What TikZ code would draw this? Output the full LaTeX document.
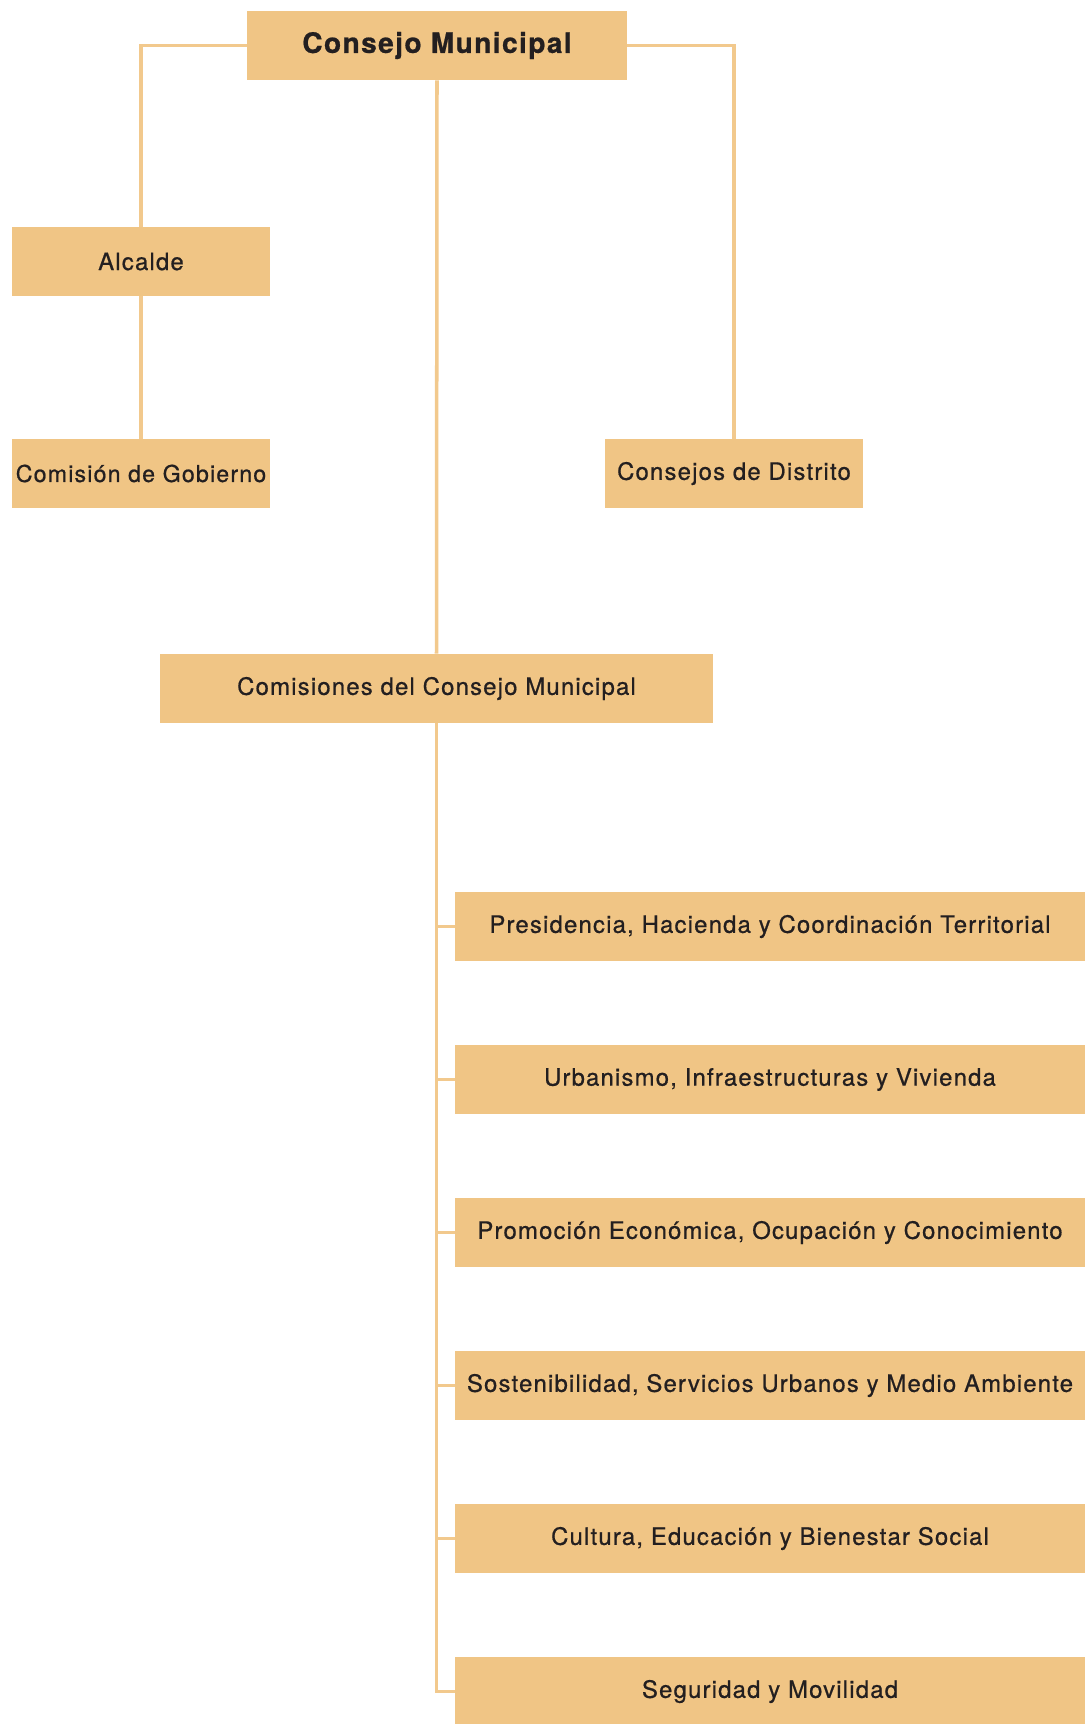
\documentclass[tikz,border=0pt]{standalone}
\usepackage{fontspec}
\setmainfont{TeX Gyre Heros}[LetterSpace=5,FakeBold=0.7]
\usepackage{tikz}
\usetikzlibrary{positioning}
\usetikzlibrary{calc}
\definecolor{boxfill}{HTML}{F0C585}
\definecolor{boxline}{HTML}{F2C98D}
\definecolor{boxtext}{HTML}{231F20}

\begin{document}
\begin{tikzpicture}[x=0.02cm,y=-0.02cm]

\tikzset{box/.style = {fill=boxfill, draw=none, text=boxtext, minimum height=1.38cm, inner sep=0pt, font=\fontsize{13.6}{16}\selectfont}}
\tikzset{link/.style = {draw=boxline, line width=2pt}}

\useasboundingbox (0,0) rectangle (1085,1724);

%boxes

\node[box, minimum width=7.6cm, font=\fontsize{16}{19}\selectfont\bfseries] (cm) at (437,45.5) {Consejo Municipal};

\node[box, minimum width=5.16cm] (alc) at (141,261.5) {Alcalde};
\node[box, minimum width=5.16cm, font=\fontsize{13.2}{16}\selectfont] (cg) at (141,473.5) {Comisión de Gobierno};
\node[box, minimum width=5.16cm] (cd) at (734,473.5) {Consejos de Distrito};

\node[box, minimum width=11.06cm] (ccm) at (436.5,688.5) {Comisiones del Consejo Municipal};

\node[box, minimum width=12.6cm] (c1) at (770,926.5) {Presidencia, Hacienda y Coordinación Territorial};
\node[box, minimum width=12.6cm] (c2) at (770,1079.5) {Urbanismo, Infraestructuras y Vivienda};
\node[box, minimum width=12.6cm] (c3) at (770,1232.5) {Promoción Económica, Ocupación y Conocimiento};
\node[box, minimum width=12.6cm] (c4) at (770,1385.5) {Sostenibilidad, Servicios Urbanos y Medio Ambiente};
\node[box, minimum width=12.6cm] (c5) at (770,1538.5) {Cultura, Educación y Bienestar Social};
\node[box, minimum width=12.6cm] (c6) at (770,1691.5) {Seguridad y Movilidad};

%links
\draw[link] (cm.west) -| (alc.north);
\draw[link] (cm.east) -| (cd.north);
\draw[link] (alc.south) to (cg.north);
\draw[link] (cm.south) to (ccm.north);

\draw[link] (ccm.south) |- (c6.west);
\draw[link] (ccm.south |- c1.west) to (c1.west);
\draw[link] (ccm.south |- c2.west) to (c2.west);
\draw[link] (ccm.south |- c3.west) to (c3.west);
\draw[link] (ccm.south |- c4.west) to (c4.west);
\draw[link] (ccm.south |- c5.west) to (c5.west);

\end{tikzpicture}
\end{document}
